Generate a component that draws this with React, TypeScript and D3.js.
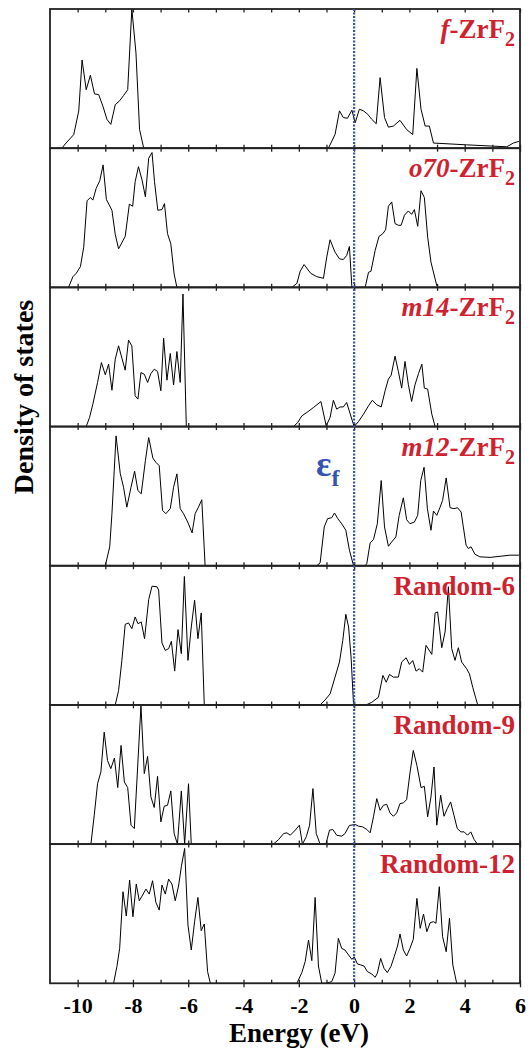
import * as d3 from "d3";
import { useRef, useEffect } from "react";

// energy (eV), density (arbitrary units, panel max = 100)
const dosF = [
  [-10.57, 0], [-10.45, 3], [-10.14, 9.8], [-9.96, 26.8], [-9.84, 63.4], [-9.69, 42], [-9.54, 52.4],
  [-9.39, 39], [-9.24, 38.5], [-9.08, 29.8], [-8.94, 20.7], [-8.8, 17.1], [-8.64, 31.2], [-8.48, 34.1],
  [-8.34, 37.8], [-8.19, 42], [-8.04, 100], [-7.89, 68.3], [-7.76, 13.4], [-7.61, 0],
  [-0.93, 0], [-0.69, 9.8], [-0.53, 26.8], [-0.39, 22], [-0.24, 21.5], [-0.08, 27.3], [0.04, 18.3],
  [0.19, 28], [0.34, 26.8], [0.49, 24.4], [0.64, 20.7], [0.8, 17.6], [0.94, 50.7], [1.1, 22],
  [1.24, 15.1], [1.42, 15.9], [1.66, 20], [1.9, 13.4], [2.12, 9.8], [2.27, 57.3], [2.42, 28],
  [2.57, 15.9], [2.72, 15.9], [2.87, 3.7], [4.07, 2.4], [5.52, 1], [5.76, 3.7], [5.96, 4.9]
];

const dosO70 = [
  [-10.33, 0], [-10.17, 7.7], [-10.05, 10.1], [-9.9, 14.9], [-9.78, 28.9], [-9.66, 62.2], [-9.54, 64.6],
  [-9.45, 62.7], [-9.33, 71.1], [-9.2, 76.6], [-9.08, 88], [-8.96, 63.1], [-8.76, 55.4], [-8.64, 38.1],
  [-8.52, 27.7], [-8.28, 36.6], [-8.13, 59.8], [-8.01, 58.3], [-7.92, 75.9], [-7.8, 86.7], [-7.67, 77.1],
  [-7.55, 65.1], [-7.43, 92.8], [-7.31, 96.9], [-7.22, 75.9], [-7.1, 55.4], [-6.95, 55.9], [-6.86, 60.2],
  [-6.75, 38.6], [-6.63, 31.3], [-6.51, 9.6], [-6.41, 0],
  [-2.25, 0], [-2.07, 2.9], [-1.95, 11.6], [-1.81, 16.4], [-1.57, 10.1], [-1.35, 7.7], [-1.11, 6.5],
  [-0.99, 21.7], [-0.87, 34.2], [-0.69, 25.3], [-0.53, 20.5], [-0.39, 20], [-0.27, 22.9], [-0.17, 29.4],
  [-0.08, 0], [0.4, 0], [0.52, 10.8], [0.61, 11.6], [0.76, 26.5], [0.9, 36.6], [1.04, 38.6], [1.14, 41.4],
  [1.24, 58.3], [1.36, 61.4], [1.48, 45.8], [1.6, 44.6], [1.7, 44.6], [1.82, 51.8], [1.96, 54.9],
  [2.08, 52.5], [2.18, 55.9], [2.3, 43.9], [2.42, 69.4], [2.54, 64.6], [2.66, 36.1], [2.78, 18.1],
  [2.99, 1.2], [3.05, 0]
];

const dosM14 = [
  [-9.69, 0], [-9.57, 6.5], [-9.45, 16.1], [-9.28, 31.7], [-9.14, 46], [-9.0, 37.2], [-8.88, 44.8],
  [-8.76, 26.1], [-8.64, 48.4], [-8.52, 58], [-8.4, 49.2], [-8.28, 40.5], [-8.16, 62.1], [-8.04, 58],
  [-7.92, 22.1], [-7.82, 19.7], [-7.71, 38.8], [-7.59, 37.6], [-7.47, 31.7], [-7.35, 38.1], [-7.23, 41.2],
  [-7.11, 39.6], [-6.99, 25.7], [-6.89, 63.5], [-6.77, 33.3], [-6.65, 52.5], [-6.53, 29.9], [-6.41, 53.9],
  [-6.29, 31.7], [-6.19, 95.2], [-6.07, 0],
  [-2.19, 0], [-2.04, 2.9], [-1.89, 7.7], [-1.71, 10.1], [-1.47, 13.7], [-1.2, 18], [-1.01, 0.5],
  [-0.87, 6.5], [-0.75, 18.9], [-0.63, 12.5], [-0.51, 14.1], [-0.39, 14.1], [-0.27, 17.3], [0, 0],
  [0.16, 3.6], [0.34, 8.9], [0.52, 14.9], [0.66, 18.9], [0.82, 15.6], [0.98, 14.1], [1.12, 25.7],
  [1.24, 34.1], [1.34, 36.9], [1.48, 50.6], [1.6, 39.6], [1.72, 27.6], [1.84, 46.8], [1.96, 30.4],
  [2.08, 18], [2.2, 29.9], [2.33, 38.1], [2.45, 44.8], [2.54, 27.6], [2.66, 26.9], [2.81, 8.9], [2.93, 0]
];

const dosM12 = [
  [-9.0, 0], [-8.84, 13.6], [-8.76, 37.4], [-8.61, 93.3], [-8.46, 66.4], [-8.34, 56.4], [-8.22, 42.1],
  [-8.07, 56.4], [-7.94, 67.9], [-7.82, 54], [-7.7, 51.7], [-7.55, 75.5], [-7.43, 92.1], [-7.28, 77.4],
  [-7.17, 74.3], [-7.05, 71.9], [-6.93, 39.8], [-6.81, 37.4], [-6.65, 41], [-6.53, 56.4], [-6.41, 66],
  [-6.29, 41], [-6.17, 37.4], [-6.02, 31.4], [-5.86, 23.6], [-5.75, 37.4], [-5.63, 42.1], [-5.51, 47.4],
  [-5.39, 0],
  [-1.35, 0], [-1.23, 2.1], [-1.08, 27.9], [-0.96, 33.8], [-0.81, 34.5], [-0.71, 37.9], [-0.59, 33.8],
  [-0.45, 30.2], [-0.3, 25.5], [-0.17, 11.2], [-0.02, 0], [0.4, 0], [0.46, 1.7], [0.58, 16.4],
  [0.7, 18.8], [0.84, 30.2], [0.98, 61.2], [1.1, 27.9], [1.24, 14], [1.36, 17.1], [1.51, 20.7],
  [1.63, 36.2], [1.78, 48.8], [1.9, 33.1], [2.02, 30.2], [2.18, 31.4], [2.3, 36.2], [2.41, 61.2],
  [2.53, 70.7], [2.65, 41], [2.78, 25.5], [2.87, 39.3], [2.99, 36.2], [3.11, 42.1], [3.2, 46.9],
  [3.33, 63.1], [3.47, 41.7], [3.61, 41], [3.74, 41.7], [3.87, 38.6], [3.95, 27.9], [4.05, 14.8],
  [4.13, 12.4], [4.23, 13.6], [4.37, 8.3], [4.55, 6.4], [4.92, 6], [5.64, 7.6], [5.96, 7.6]
];

const dosR6 = [
  [-8.64, 0], [-8.52, 10.3], [-8.4, 32], [-8.28, 57.9], [-8.16, 58.9], [-8.04, 54.8], [-7.92, 63.2],
  [-7.82, 58.4], [-7.7, 59.6], [-7.58, 47.6], [-7.43, 75.7], [-7.31, 85.3], [-7.13, 84.9], [-7.07, 82.5],
  [-6.95, 44.5], [-6.83, 39.2], [-6.71, 40.4], [-6.61, 45.7], [-6.49, 24.3], [-6.37, 54.1], [-6.25, 36.8],
  [-6.14, 92.3], [-6.01, 32], [-5.89, 56], [-5.77, 75.2], [-5.65, 47.6], [-5.53, 66.1], [-5.42, 0],
  [-1.23, 0], [-1.05, 3.6], [-0.87, 7.9], [-0.69, 20], [-0.53, 30.8], [-0.41, 46.4], [-0.3, 65.1],
  [-0.2, 56], [-0.11, 34.4], [-0.02, 0], [0.43, 0], [0.64, 1.9], [0.88, 5.5], [1.04, 21.2], [1.16, 16.3],
  [1.28, 21.9], [1.42, 20], [1.6, 20], [1.72, 30.8], [1.88, 33.9], [2.0, 29.1], [2.12, 31.9], [2.24, 24.3],
  [2.36, 26], [2.48, 23.6], [2.6, 42.8], [2.81, 36.3], [2.93, 66.1], [3.02, 66.8], [3.17, 41.1],
  [3.29, 52.4], [3.41, 84.9], [3.53, 40.4], [3.65, 32], [3.77, 41.1], [3.89, 30.8], [4.07, 26],
  [4.17, 22.4], [4.29, 12.7], [4.47, 0]
];

const dosR9 = [
  [-9.52, 0], [-9.4, 20.8], [-9.28, 43.4], [-9.16, 51.8], [-9.04, 80.4], [-8.92, 60.1], [-8.8, 54.2],
  [-8.67, 61.8], [-8.55, 40.6], [-8.43, 70.9], [-8.31, 44.6], [-8.19, 40.6], [-8.07, 13.6], [-7.95, 11.2],
  [-7.83, 55.4], [-7.71, 99.5], [-7.59, 50.6], [-7.47, 63], [-7.35, 33.9], [-7.23, 26.3], [-7.11, 48.7],
  [-6.99, 16], [-6.87, 27.2], [-6.75, 27.9], [-6.63, 38.2], [-6.51, 7.6], [-6.39, 0], [-6.25, 38.2],
  [-6.13, 0], [-5.99, 43.4], [-5.89, 0],
  [-2.92, 0], [-2.73, 3.3], [-2.55, 7.6], [-2.43, 8.1], [-2.31, 6.4], [-2.13, 10], [-1.98, 13.6],
  [-1.87, 0], [-1.73, 5.3], [-1.61, 13.6], [-1.49, 39.9], [-1.37, 7.6], [-1.23, 0], [-1.02, 0],
  [-0.89, 10], [-0.77, 10.5], [-0.63, 6.4], [-0.45, 5.7], [-0.33, 7.6], [-0.17, 13.4], [0.04, 14.1],
  [0.16, 12.9], [0.31, 12.4], [0.46, 10.5], [0.58, 8.1], [0.7, 19.6], [0.82, 32.7], [0.94, 24.3],
  [1.06, 27.9], [1.18, 28.6], [1.3, 22.4], [1.42, 20], [1.54, 22.4], [1.66, 29.1], [1.78, 29.6],
  [1.9, 32], [2.02, 51.1], [2.14, 67.3], [2.27, 56.6], [2.42, 40.6], [2.54, 41.5], [2.66, 19.6],
  [2.78, 33.9], [2.89, 55.4], [2.99, 13.6], [3.13, 35.1], [3.25, 20], [3.37, 25.5], [3.49, 30.3],
  [3.61, 20.8], [3.73, 11.2], [3.86, 8.8], [3.98, 8.8], [4.1, 6.4], [4.22, 8.8], [4.34, 3.3], [4.46, 0]
];

const dosR12 = [
  [-8.7, 0], [-8.58, 12], [-8.48, 25.1], [-8.36, 65.8], [-8.24, 48.3], [-8.12, 74.2], [-8.0, 47.8],
  [-7.88, 71.3], [-7.77, 59.3], [-7.65, 63.4], [-7.53, 67.7], [-7.41, 64.1], [-7.29, 73.7], [-7.17, 58.1],
  [-7.05, 52.6], [-6.95, 70.6], [-6.83, 64.1], [-6.71, 74.9], [-6.59, 71.3], [-6.47, 59.3], [-6.35, 69.9],
  [-6.25, 83.7], [-6.13, 96.9], [-6.01, 41.9], [-5.89, 23.9], [-5.77, 44.3], [-5.65, 61.7], [-5.53, 37.8],
  [-5.42, 42.6], [-5.3, 8.4], [-5.2, 0],
  [-2.07, 0], [-1.89, 7.7], [-1.77, 15.6], [-1.65, 31.1], [-1.53, 16.3], [-1.41, 61.7], [-1.29, 12.4],
  [-1.17, 0], [-1.01, 0], [-0.81, 1.2], [-0.69, 7.2], [-0.57, 32.3], [-0.45, 25.1], [-0.33, 23.9],
  [-0.2, 20.3], [-0.08, 17.2], [0, 19.1], [0.12, 13.9], [0.24, 13.2], [0.36, 12.4], [0.48, 8.4],
  [0.64, 6.7], [0.76, 4.3], [0.84, 7.2], [0.96, 17.9], [1.08, 10.8], [1.2, 7.7], [1.33, 12],
  [1.45, 19.1], [1.57, 26.8], [1.66, 35.4], [1.78, 23.9], [1.9, 19.6], [2.02, 25.1], [2.14, 31.6],
  [2.27, 61], [2.39, 39.5], [2.51, 49.8], [2.63, 37.1], [2.75, 43.5], [2.87, 44.3], [2.96, 43.1],
  [3.08, 69.4], [3.2, 33.5], [3.33, 22.7], [3.45, 46.7], [3.57, 13.2], [3.71, 0]
];

const panelSeries = [dosF, dosO70, dosM14, dosM12, dosR6, dosR9, dosR12];
const labelItalic = ["f", "o70", "m14", "m12", "", "", ""];
const labelMain = ["-ZrF", "-ZrF", "-ZrF", "-ZrF", "Random-6", "Random-9", "Random-12"];
const labelSub = ["2", "2", "2", "2", "", "", ""];
const majorTicks = [-10, -8, -6, -4, -2, 0, 2, 4, 6];
const minorTicks = d3.range(-10, 7, 1);

const W = 531;
const H = 1049;
const left = 50;
const right = 520;
const top = 9;
const bottom = 983.3;
const serif = "'Liberation Serif', 'Times New Roman', serif";
const red = "#d0222e";
const blue = "#3553b0";

export default function App() {
  const axesRef = useRef<SVGGElement>(null);

  const x = d3.scaleLinear().domain([-11, 6]).range([left, right]);
  const band = d3.scaleBand<number>().domain(d3.range(panelSeries.length)).range([top, bottom]).padding(0);
  const ph = band.bandwidth();

  useEffect(() => {
    const g = d3.select(axesRef.current);
    g.selectAll("*").remove();
    panelSeries.forEach((_, i) => {
      const y0 = band(i)!;
      g.append("g")
        .attr("transform", `translate(0,${y0})`)
        .call(d3.axisTop(x).tickValues(minorTicks).tickSize(-3.5).tickFormat(() => ""))
        .call((s) => s.select(".domain").remove());
      g.append("g")
        .attr("transform", `translate(0,${y0 + ph})`)
        .call(d3.axisBottom(x).tickValues(minorTicks).tickSize(-3.5).tickFormat(() => ""))
        .call((s) => s.select(".domain").remove());
    });
    const ax = g.append("g")
      .attr("transform", `translate(0,${bottom})`)
      .call(d3.axisBottom(x).tickValues(majorTicks).tickSize(4).tickPadding(10).tickFormat((d) => String(d)))
      .call((s) => s.select(".domain").remove());
    ax.selectAll("text")
      .attr("font-family", serif)
      .attr("font-weight", "bold")
      .attr("font-size", 22)
      .attr("fill", "#000");
    g.selectAll("line").attr("stroke", "#222").attr("stroke-width", 1.3);
  }, []);

  return (
    <svg width={W} height={H} style={{ position: "absolute", left: 0, top: 0, background: "#fff" }}>
      {panelSeries.map((data, i) => {
        const y0 = band(i)!;
        const y = d3.scaleLinear().domain([0, 100]).range([y0 + ph, y0]);
        const line = d3.line<number[]>().x((d) => x(d[0])).y((d) => y(d[1]));
        return (
          <g key={i}>
            <path d={line(data) ?? ""} fill="none" stroke="#000" strokeWidth={1} />
            <text
              x={515}
              y={y0 + 29}
              textAnchor="end"
              fontFamily={serif}
              fontWeight="bold"
              fontSize={27}
              fill={red}
            >
              {labelItalic[i] && <tspan fontStyle="italic">{labelItalic[i]}</tspan>}
              <tspan>{labelMain[i]}</tspan>
              {labelSub[i] && <tspan fontSize={20} dy={8}>{labelSub[i]}</tspan>}
            </text>
          </g>
        );
      })}
      {panelSeries.map((_, i) => (
        <rect
          key={"b" + i}
          x={left}
          y={band(i)!}
          width={right - left}
          height={ph}
          fill="none"
          stroke="#222"
          strokeWidth={1.8}
        />
      ))}
      <g ref={axesRef} />
      <line
        x1={x(0)}
        x2={x(0)}
        y1={top}
        y2={bottom}
        stroke={blue}
        strokeWidth={2.2}
        strokeDasharray="2,1.5"
      />
      <text x={316} y={476} fontFamily={serif} fontWeight="bold" fontSize={36} fill={blue}>
        ε<tspan fontSize={24} dy={10}>f</tspan>
      </text>
      <text
        transform={`translate(33,397) rotate(-90)`}
        textAnchor="middle"
        fontFamily={serif}
        fontWeight="bold"
        fontSize={28}
        fill="#000"
      >
        Density of states
      </text>
      <text x={299} y={1042} textAnchor="middle" fontFamily={serif} fontWeight="bold" fontSize={27} fill="#000">
        Energy (eV)
      </text>
    </svg>
  );
}
